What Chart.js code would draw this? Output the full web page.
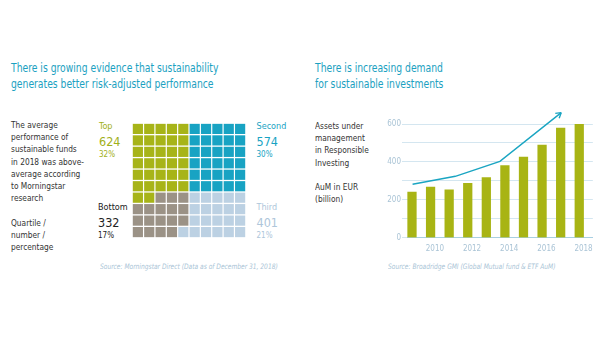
<!DOCTYPE html>
<html>
<head>
<meta charset="utf-8">
<script src="https://cdn.jsdelivr.net/npm/chart.js@4"></script>
<style>
  html, body { margin: 0; padding: 0; background: #fff; }
  body { width: 605px; height: 341px; position: relative; overflow: hidden;
         font-family: "Liberation Sans Narrow", "DejaVu Sans Condensed", "Open Sans", sans-serif; }
  .abs { position: absolute; white-space: nowrap; transform-origin: 0 0; }
  .title { color: #1ba1c1; font-size: 12px; line-height: 16px; transform: scaleX(0.855); }
  .desc { color: #333; font-size: 9px; line-height: 12.2px; transform: scaleX(0.92); }
  .q { font-size: 9px; line-height: 12px; }
  .q .n { font-size: 12.5px; line-height: 17px; display: block; margin-top: 1px; }
  .q .p { font-size: 8px; line-height: 10px; display: block; }
  .src { color: #a9c4d6; font-size: 7.5px; font-style: italic; transform: scaleX(0.88); }
  canvas { position: absolute; }
</style>
</head>
<body>
<div class="abs title" style="left:11px; top:60px;">There is growing evidence that sustainability<br>generates better risk-adjusted performance</div>
<div class="abs title" style="left:315px; top:60px;">There is increasing demand<br>for sustainable investments</div>

<div class="abs desc" style="left:11px; top:119px;">The average<br>performance of<br>sustainable funds<br>in 2018 was above-<br>average according<br>to Morningstar<br>research</div>
<div class="abs desc" style="left:11px; top:217px;">Quartile /<br>number /<br>percentage</div>

<div class="abs desc" style="left:315px; top:120px;">Assets under<br>management<br>in Responsible<br>Investing</div>
<div class="abs desc" style="left:315px; top:181px;">AuM in EUR<br>(billion)</div>

<div id="labels"></div>

<div class="abs src" style="left:100px; top:262px;">Source: Morningstar Direct (Data as of December 31, 2018)</div>
<div class="abs src" style="left:388px; top:262px;">Source: Broadridge GMI (Global Mutual fund &amp; ETF AuM)</div>

<canvas id="waffle" width="128" height="129" style="left:125px; top:116px; width:128px; height:129px;"></canvas>
<canvas id="aum" width="225" height="150" style="left:374px; top:110px; width:225px; height:150px;"></canvas>

<script>
const quartiles = ["Top", "Second", "Third", "Bottom"];
const fundCounts = [624, 574, 401, 332];
const shares = [32, 30, 21, 17];
const quartileColors = ["#a7b418", "#18a3c3", "#bcd1e3", "#9b9286"];
const labelColors = ["#9fb01a", "#18a3c3", "#aec6da", "#222"];

const years = ["2009", "2010", "2011", "2012", "2013", "2014", "2015", "2016", "2017", "2018"];
const aum = [241, 267, 253, 287, 317, 380, 426, 489, 579, 600];
const trendX = [2008.8, 2011.1, 2013.5, 2016.8];
const trendY = [282, 324, 403, 660];

const FONT = "'Liberation Sans Narrow', 'DejaVu Sans Condensed', 'Open Sans', sans-serif";

// quartile text labels
const labelPos = { Top: [99, 120], Second: [256.5, 120], Bottom: [98, 201], Third: [256.5, 201] };
const labelsEl = document.getElementById("labels");
quartiles.forEach((q, i) => {
  const el = document.createElement("div");
  el.className = "abs q";
  el.style.left = labelPos[q][0] + "px";
  el.style.top = labelPos[q][1] + "px";
  el.style.color = labelColors[i];
  el.innerHTML = `${q}<span class="n">${fundCounts[i]}</span><span class="p">${shares[i]}%</span>`;
  labelsEl.appendChild(el);
});

// waffle: left half filled top-down (Top then Bottom), right half bottom-up (Third then Second)
const cellOrder = [];
for (let r = 0; r < 10; r++) for (let c = 0; c < 5; c++) cellOrder.push({ x: c, y: r });
for (let r = 9; r >= 0; r--) for (let c = 5; c < 10; c++) cellOrder.push({ x: c, y: r });
const fillSeq = [0, 3, 2, 1];
const cells = quartiles.map(() => []);
let k = 0;
fillSeq.forEach((qi) => {
  for (let n = 0; n < shares[qi]; n++) cells[qi].push(cellOrder[k++]);
});

new Chart(document.getElementById("waffle"), {
  type: "scatter",
  data: {
    datasets: quartiles.map((q, i) => ({
      label: q,
      data: cells[i],
      pointStyle: "rect",
      pointRadius: 7.2,
      pointHoverRadius: 7.2,
      backgroundColor: quartileColors[i],
      borderWidth: 0,
      clip: false,
    })),
  },
  options: {
    responsive: false,
    animation: false,
    layout: { padding: { left: 6.7, right: 6.3, top: 6.7, bottom: 6.7 } },
    plugins: { legend: { display: false }, tooltip: { enabled: false } },
    scales: {
      x: { type: "linear", min: -0.5, max: 9.5, display: false },
      y: { type: "linear", min: -0.5, max: 9.5, reverse: true, display: false },
    },
  },
});

const arrowHead = {
  id: "arrowHead",
  afterDatasetsDraw(chart) {
    const pts = chart.getDatasetMeta(1).data;
    const a = pts[pts.length - 2], b = pts[pts.length - 1];
    const ang = Math.atan2(b.y - a.y, b.x - a.x);
    const ctx = chart.ctx;
    ctx.save();
    ctx.strokeStyle = "#1aa5c2";
    ctx.lineWidth = 1.4;
    ctx.beginPath();
    [-0.55, 0.55].forEach((d) => {
      ctx.moveTo(b.x, b.y);
      ctx.lineTo(b.x - 6 * Math.cos(ang + d), b.y - 6 * Math.sin(ang + d));
    });
    ctx.stroke();
    ctx.restore();
  },
};

new Chart(document.getElementById("aum"), {
  data: {
    labels: years,
    datasets: [
      {
        type: "bar",
        data: aum,
        backgroundColor: "#a8b414",
        barThickness: 8.6,
      },
      {
        type: "line",
        data: trendX.map((x, i) => ({ x, y: trendY[i] })),
        xAxisID: "xTrend",
        borderColor: "#1aa5c2",
        borderWidth: 1.4,
        pointRadius: 0,
        tension: 0,
        clip: false,
      },
    ],
  },
  options: {
    responsive: false,
    animation: false,
    layout: { padding: { left: 0, right: 6, top: 14, bottom: 4.3 } },
    plugins: { legend: { display: false }, tooltip: { enabled: false } },
    scales: {
      x: {
        grid: { display: false, drawTicks: false },
        border: { color: "#a8cfe2", width: 1 },
        ticks: {
          padding: 6,
          color: "#aac4d6",
          font: { family: FONT, size: 8 },
          maxRotation: 0,
          autoSkip: false,
          callback: (v, i) => (i % 2 === 1 ? years[i] : ""),
        },
        afterFit: (s) => { s.height = 18; },
      },
      xTrend: { type: "linear", min: 2008.5, max: 2018.5, display: false },
      y: {
        min: 0,
        max: 600,
        grid: { color: "#d4e6f0", tickLength: 5 },
        border: { display: false },
        ticks: {
          stepSize: 100,
          padding: 1,
          color: "#aac4d6",
          font: { family: FONT, size: 8 },
          callback: (v) => (v % 200 === 0 ? v : ""),
        },
        afterFit: (s) => { s.width = 33; },
      },
    },
  },
  plugins: [arrowHead],
});
</script>
</body>
</html>
